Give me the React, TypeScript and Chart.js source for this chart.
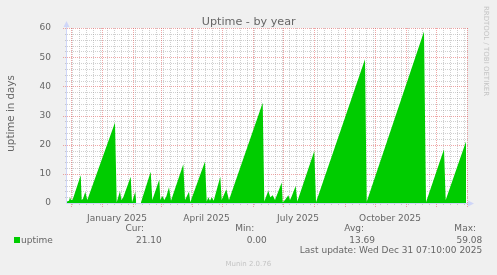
import React, { useEffect, useRef } from 'react';
import { Chart, registerables } from 'chart.js';

Chart.register(...registerables);

// ---- data (x = days since graph start, y = uptime in days) ----
const GRAPH_START = Date.UTC(2024, 10, 27, 12, 0);
const SPAN_DAYS = 400;
const DAY_MS = 86400000;

const days = [
  0, 2, 3, 4, 5.7, 13.7, 14.7, 16, 18.3, 20.3,
  48, 49.7, 53, 54.3, 56.3, 63.7, 65, 68.3, 69.2, 69.7,
  74, 83.7, 85.3, 92.3, 93.3, 95.3, 97.3, 99.3, 102, 104,
  116.3, 118, 122, 123.3, 138, 139.7, 141.3, 143, 144.7, 146.7,
  153.3, 154.7, 159.3, 162, 195.7, 197.3, 201.3, 203.3, 205.7, 208,
  214.7, 215.7, 218, 221.3, 223, 224.7, 228.7, 230.3, 247.3, 249,
  298, 299.7, 357, 359, 377, 378.7, 399,
];
const uptime: (number | null)[] = [
  0.5, 0.8, 2.0, 1.0, 1.2, 9.5, 1.0, 1.5, 3.9, 1.0,
  27.6, 0.3, 4.1, 1.0, 2.0, 9.0, 0.3, 3.9, 0.5, null,
  0.3, 10.7, 1.0, 8.1, 1.0, 2.4, 1.0, 2.2, 5.4, 0.8,
  13.3, 1.0, 3.9, 0.3, 14.2, 0.5, 2.0, 0.8, 2.0, 0.8,
  9.0, 1.0, 4.7, 1.0, 34.4, 0.5, 4.2, 2.0, 2.7, 1.0,
  7.0, 0.3, 1.0, 2.7, 1.0, 2.3, 5.8, 0.5, 17.8, 0.3,
  49.3, 0.4, 58.8, 0.3, 18.4, 1.0, 21.1,
];

const xLabels = ['January 2025', 'April 2025', 'July 2025', 'October 2025'];
const xLabelMonths: [number, number][] = [[2025, 0], [2025, 3], [2025, 6], [2025, 9]];
const yMax = 60;
const yStep = 10;
const yMinorStep = 2;

const title = 'Uptime - by year';
const yTitle = 'uptime in days';
const seriesName = 'uptime';
const statLabels = ['Cur:', 'Min:', 'Avg:', 'Max:'];
const statValues = ['21.10', '0.00', '13.69', '59.08'];
const lastUpdate = 'Last update: Wed Dec 31 07:10:00 2025';
const footer = 'Munin 2.0.76';
const watermark = 'RRDTOOL / TOBI OETIKER';

// ---- helpers ----
const toDay = (t: number) => (t - GRAPH_START) / DAY_MS;

const monthStarts: number[] = [];
for (let i = 0; i < 15; i++) {
  const d = toDay(Date.UTC(2024, 11 + i, 1));
  if (d >= 0 && d <= SPAN_DAYS) monthStarts.push(d);
}
const weekLines: number[] = [];
for (let t = Date.UTC(2024, 11, 2); toDay(t) <= SPAN_DAYS; t += 7 * DAY_MS) {
  weekLines.push(toDay(t));
}
const labelPositions = xLabelMonths.map(([y, m]) =>
  (toDay(Date.UTC(y, m, 1)) + toDay(Date.UTC(y, m + 1, 1))) / 2
);

const FONT = '"DejaVu Sans", "DejaVu Sans Condensed", sans-serif';
const TEXT = '#666666';
const GREEN = '#00CC00';
const AXIS = '#CFD6F8';
const MINOR = 'rgba(143,143,143,0.42)';
const MAJOR = 'rgba(224,80,80,0.5)';

const muninPlugin = {
  id: 'munin',
  beforeDraw(chart: any) {
    const { ctx, chartArea: a } = chart;
    ctx.save();
    ctx.fillStyle = '#F0F0F0';
    ctx.fillRect(0, 0, chart.width, chart.height);
    ctx.fillStyle = '#FFFFFF';
    ctx.fillRect(a.left, a.top, a.right - a.left, a.bottom - a.top);
    ctx.restore();
  },
  beforeDatasetsDraw(chart: any) {
    const { ctx, chartArea: a, scales } = chart;
    const xs = scales.x;
    const ys = scales.y;
    ctx.save();
    ctx.lineWidth = 1;
    ctx.setLineDash([1, 1]);
    // minor horizontal
    ctx.strokeStyle = MINOR;
    for (let v = yMinorStep; v < yMax; v += yMinorStep) {
      if (v % yStep === 0) continue;
      const y = Math.round(ys.getPixelForValue(v)) + 0.5;
      ctx.beginPath();
      ctx.moveTo(a.left - 2, y);
      ctx.lineTo(a.right + 1, y);
      ctx.stroke();
    }
    // minor vertical
    for (const d of weekLines) {
      if (monthStarts.some((m) => Math.abs(m - d) < 0.5)) continue;
      const x = Math.round(xs.getPixelForValue(d)) + 0.5;
      ctx.beginPath();
      ctx.moveTo(x, a.top);
      ctx.lineTo(x, a.bottom + 2);
      ctx.stroke();
    }
    // major horizontal
    ctx.strokeStyle = MAJOR;
    for (let v = yStep; v <= yMax; v += yStep) {
      const y = Math.round(ys.getPixelForValue(v)) + 0.5;
      ctx.beginPath();
      ctx.moveTo(a.left - 4, y);
      ctx.lineTo(a.right + 1, y);
      ctx.stroke();
    }
    // major vertical
    for (const d of monthStarts) {
      const x = Math.round(xs.getPixelForValue(d)) + 0.5;
      ctx.beginPath();
      ctx.moveTo(x, a.top);
      ctx.lineTo(x, a.bottom + 4);
      ctx.stroke();
    }
    ctx.restore();
  },
  afterDatasetsDraw(chart: any) {
    const { ctx, chartArea: a } = chart;
    ctx.save();
    ctx.strokeStyle = AXIS;
    ctx.fillStyle = AXIS;
    ctx.lineWidth = 1;
    const ax = a.left - 0.5;
    const ay = a.bottom + 0.5;
    ctx.beginPath();
    ctx.moveTo(ax, ay);
    ctx.lineTo(ax, a.top - 2);
    ctx.moveTo(ax, ay);
    ctx.lineTo(a.right + 2, ay);
    ctx.stroke();
    // arrows
    ctx.beginPath();
    ctx.moveTo(ax - 3, a.top - 1);
    ctx.lineTo(ax, a.top - 7);
    ctx.lineTo(ax + 3, a.top - 1);
    ctx.closePath();
    ctx.fill();
    ctx.beginPath();
    ctx.moveTo(a.right + 1, ay - 3);
    ctx.lineTo(a.right + 7, ay);
    ctx.lineTo(a.right + 1, ay + 3);
    ctx.closePath();
    ctx.fill();
    ctx.restore();
  },
  afterDraw(chart: any) {
    const { ctx } = chart;
    ctx.save();
    ctx.fillStyle = TEXT;
    ctx.textBaseline = 'alphabetic';
    // title
    ctx.font = `11.2px ${FONT}`;
    ctx.textAlign = 'center';
    ctx.fillText(title, 248.7, 24.5);
    // y title
    ctx.save();
    ctx.translate(14, 113.4);
    ctx.rotate(-Math.PI / 2);
    ctx.font = `10.3px ${FONT}`;
    ctx.textAlign = 'center';
    ctx.fillText(yTitle, 0, 0);
    ctx.restore();
    // watermark
    ctx.save();
    ctx.translate(484, 51);
    ctx.rotate(Math.PI / 2);
    ctx.font = `7px ${FONT}`;
    ctx.textAlign = 'center';
    ctx.fillStyle = '#C4C4C4';
    ctx.fillText(watermark, 0, 0);
    ctx.restore();
    // legend
    ctx.fillStyle = GREEN;
    ctx.fillRect(14, 237, 6, 6);
    ctx.fillStyle = TEXT;
    ctx.font = `9px ${FONT}`;
    ctx.textAlign = 'left';
    ctx.fillText(seriesName, 21, 242.5);
    const labelRight = [144, 254.3, 364, 476];
    const valueRight = [161.7, 266.7, 375, 482.3];
    ctx.textAlign = 'right';
    statLabels.forEach((s, i) => ctx.fillText(s, labelRight[i], 230.5));
    statValues.forEach((s, i) => ctx.fillText(s, valueRight[i], 242.5));
    ctx.fillText(lastUpdate, 482.3, 253.3);
    // footer
    ctx.font = `7px ${FONT}`;
    ctx.textAlign = 'center';
    ctx.fillStyle = '#C4C4C4';
    ctx.fillText(footer, 248.3, 266);
    ctx.restore();
  },
};

export default function App() {
  const ref = useRef<HTMLCanvasElement>(null);
  useEffect(() => {
    if (!ref.current) return;
    const chart = new Chart(ref.current, {
      type: 'line',
      data: {
        datasets: [
          {
            label: seriesName,
            data: days.map((d, i) => ({ x: d, y: uptime[i] })) as any,
            borderColor: 'rgba(0,0,0,0)',
            borderWidth: 0,
            backgroundColor: GREEN,
            fill: 'origin',
            pointRadius: 0,
            pointHoverRadius: 0,
            tension: 0,
            spanGaps: false,
          },
        ],
      },
      options: {
        responsive: false,
        animation: false,
        devicePixelRatio: 1,
        events: [],
        layout: { padding: { left: 0, right: 30, top: 28, bottom: 0 } },
        plugins: {
          legend: { display: false },
          title: { display: false },
          tooltip: { enabled: false },
        },
        scales: {
          x: {
            type: 'linear',
            min: 0,
            max: SPAN_DAYS,
            grid: { display: false },
            border: { display: false },
            afterBuildTicks: (scale: any) => {
              scale.ticks = labelPositions.map((v) => ({ value: v }));
            },
            afterFit: (scale: any) => {
              scale.height = 72;
            },
            ticks: {
              autoSkip: false,
              maxRotation: 0,
              minRotation: 0,
              padding: 2,
              color: TEXT,
              font: { family: FONT, size: 9 },
              callback: (_v: any, i: number) => xLabels[i],
            },
          },
          y: {
            type: 'linear',
            min: 0,
            max: yMax,
            grid: { display: false },
            border: { display: false },
            afterFit: (scale: any) => {
              scale.width = 67;
            },
            ticks: {
              stepSize: yStep,
              padding: 8,
              color: TEXT,
              font: { family: FONT, size: 9 },
            },
          },
        },
      },
      plugins: [muninPlugin],
    } as any);
    return () => chart.destroy();
  }, []);
  return (
    <div
      style={{
        position: 'fixed',
        left: 0,
        top: 0,
        width: 497,
        height: 275,
        background: '#F0F0F0',
      }}
    >
      <canvas ref={ref} width={497} height={275} style={{ display: 'block', width: 497, height: 275 }} />
    </div>
  );
}
